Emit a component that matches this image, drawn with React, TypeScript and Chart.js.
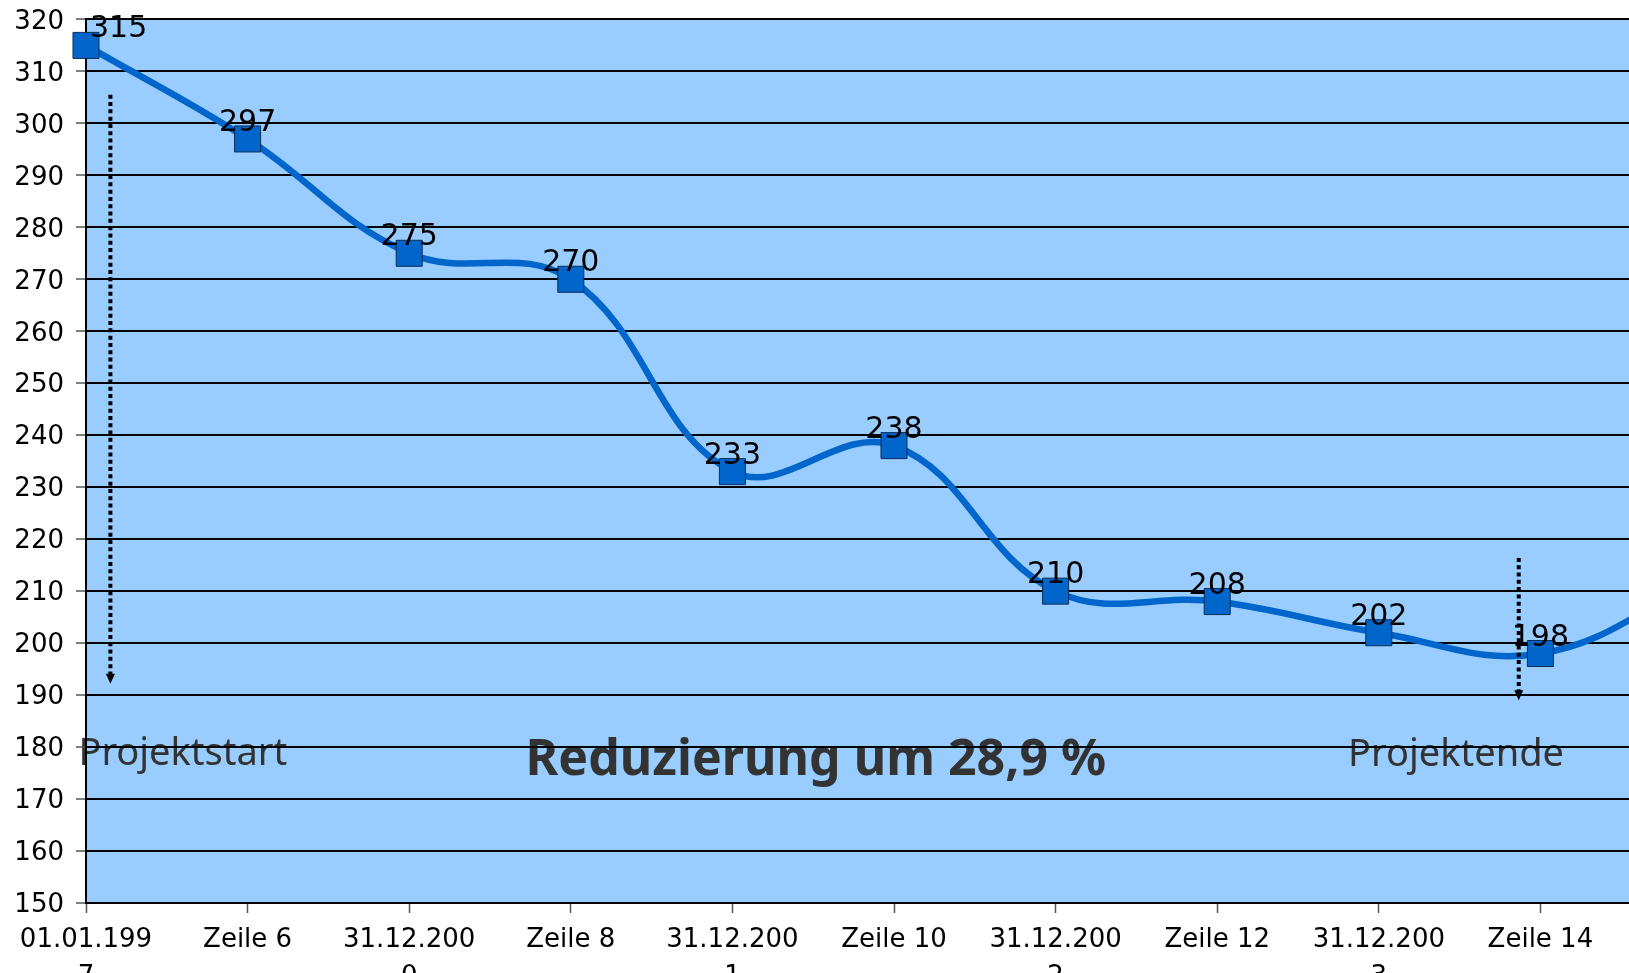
import { useEffect, useRef } from "react";
import { Chart, registerables } from "chart.js";

Chart.register(...registerables);

// ---- data ----
const categories = [
  "01.01.1997",
  "Zeile 6",
  "31.12.2000",
  "Zeile 8",
  "31.12.2001",
  "Zeile 10",
  "31.12.2002",
  "Zeile 12",
  "31.12.2003",
  "Zeile 14",
  "31.12.2004",
];
const values = [315, 297, 275, 270, 233, 238, 210, 208, 202, 198, 212];
const yMin = 150;
const yMax = 320;
const yStep = 10;

// annotation texts (anchored in data coordinates: category index, value)
const noteTexts = ["Projektstart", "Reduzierung um 28,9 %", "Projektende"];
const noteAnchorsX = [-0.047, 2.72, 7.81];
const noteAnchorsY = [176.6, 174.6, 176.4];
const noteBold = [false, true, false];

// dotted arrows (category index, start value, tip value)
const arrowX = [0.151, 8.866];
const arrowFrom = [305.5, 216.4];
const arrowTo = [192.2, 189.0];

const W = 1782;
const H = 1000;
const AXIS_FONT = "'DejaVu Sans', sans-serif";

const customPlugin = {
  id: "customDecor",
  beforeDraw(chart: any) {
    const { ctx, chartArea: a, scales } = chart;
    const xs = scales.x;
    const ys = scales.y;
    ctx.save();
    ctx.fillStyle = "#99ccff";
    ctx.fillRect(a.left, a.top, a.right - a.left, a.bottom - a.top);
    ctx.fillStyle = "#333333";
    ctx.textAlign = "left";
    ctx.textBaseline = "alphabetic";
    noteTexts.forEach((t, i) => {
      ctx.font = noteBold[i]
        ? "bold 50px 'Noto Sans', sans-serif"
        : "38px 'Noto Sans', sans-serif";
      ctx.fillText(
        t,
        xs.getPixelForValue(noteAnchorsX[i]),
        ys.getPixelForValue(noteAnchorsY[i])
      );
    });
    ctx.restore();
  },
  afterDatasetsDraw(chart: any) {
    const { ctx, chartArea: a } = chart;
    const meta = chart.getDatasetMeta(0);
    ctx.save();
    ctx.font = "30px " + AXIS_FONT;
    ctx.fillStyle = "#000000";
    ctx.textAlign = "left";
    ctx.textBaseline = "alphabetic";
    meta.data.forEach((pt: any, i: number) => {
      const txt = String(values[i]);
      const w = ctx.measureText(txt).width;
      const left = Math.max(pt.x - w / 2, a.left + 4);
      ctx.fillText(txt, left, pt.y - 8);
    });
    ctx.restore();
  },
  afterDraw(chart: any) {
    const { ctx, scales } = chart;
    const xs = scales.x;
    const ys = scales.y;
    ctx.save();
    arrowX.forEach((ax, i) => {
      const px = xs.getPixelForValue(ax);
      const y0 = ys.getPixelForValue(arrowFrom[i]);
      const y1 = ys.getPixelForValue(arrowTo[i]);
      ctx.strokeStyle = "#000000";
      ctx.lineWidth = 4;
      ctx.setLineDash([4, 3.3]);
      ctx.beginPath();
      ctx.moveTo(px, y0);
      ctx.lineTo(px, y1 - 9);
      ctx.stroke();
      ctx.setLineDash([]);
      ctx.fillStyle = "#000000";
      ctx.beginPath();
      ctx.moveTo(px - 4.5, y1 - 10);
      ctx.lineTo(px + 4.5, y1 - 10);
      ctx.lineTo(px, y1);
      ctx.closePath();
      ctx.fill();
    });
    ctx.restore();
  },
};

export default function App() {
  const ref = useRef<HTMLCanvasElement | null>(null);

  useEffect(() => {
    if (!ref.current) return;
    const chart = new Chart(ref.current, {
      type: "line",
      data: {
        labels: categories,
        datasets: [
          {
            data: values,
            borderColor: "#0066cc",
            borderWidth: 6.5,
            tension: 0.4,
            fill: false,
            pointStyle: "rect",
            pointRadius: 18.4,
            pointHoverRadius: 18.4,
            pointBackgroundColor: "#0066cc",
            pointBorderColor: "#0d2c57",
            pointBorderWidth: 1,
            clip: false as any,
          },
        ],
      },
      options: {
        responsive: false,
        animation: false,
        devicePixelRatio: 1,
        layout: { padding: { top: 17.5, right: 80, left: 0, bottom: 0 } },
        plugins: {
          legend: { display: false },
          tooltip: { enabled: false },
        },
        scales: {
          x: {
            type: "category",
            offset: false,
            afterFit: (s: any) => {
              s.height = H - 903;
            },
            grid: {
              display: true,
              drawOnChartArea: false,
              drawTicks: true,
              tickLength: 10,
              tickColor: "#555555",
              tickWidth: 1.5,
            },
            border: { display: true, color: "#000000", width: 2 },
            ticks: {
              autoSkip: false,
              maxRotation: 0,
              minRotation: 0,
              padding: 9,
              color: "#000000",
              font: { size: 26, family: AXIS_FONT, lineHeight: 1.42 },
              callback: (_v: any, i: number) => {
                const s = categories[i];
                return s.length > 9 ? [s.slice(0, 9), s.slice(9)] : s;
              },
            },
          },
          y: {
            min: yMin,
            max: yMax,
            afterFit: (s: any) => {
              s.width = 86;
              s.paddingTop = 0;
              s.paddingBottom = 0;
            },
            grid: {
              color: "#000000",
              lineWidth: 2,
              tickLength: 10,
              tickColor: "#555555",
              tickWidth: 1.5,
            },
            border: { display: true, color: "#000000", width: 2 },
            ticks: {
              stepSize: yStep,
              padding: 12,
              labelOffset: 2.5,
              color: "#000000",
              font: { size: 26, family: AXIS_FONT },
            },
          },
        },
      } as any,
      plugins: [customPlugin],
    });
    return () => chart.destroy();
  }, []);

  return (
    <div
      style={{
        position: "fixed",
        left: 0,
        top: 0,
        width: "100vw",
        height: "100vh",
        overflow: "hidden",
        background: "#ffffff",
      }}
    >
      <canvas
        ref={ref}
        width={W}
        height={H}
        style={{ display: "block", width: W + "px", height: H + "px" }}
      />
    </div>
  );
}
